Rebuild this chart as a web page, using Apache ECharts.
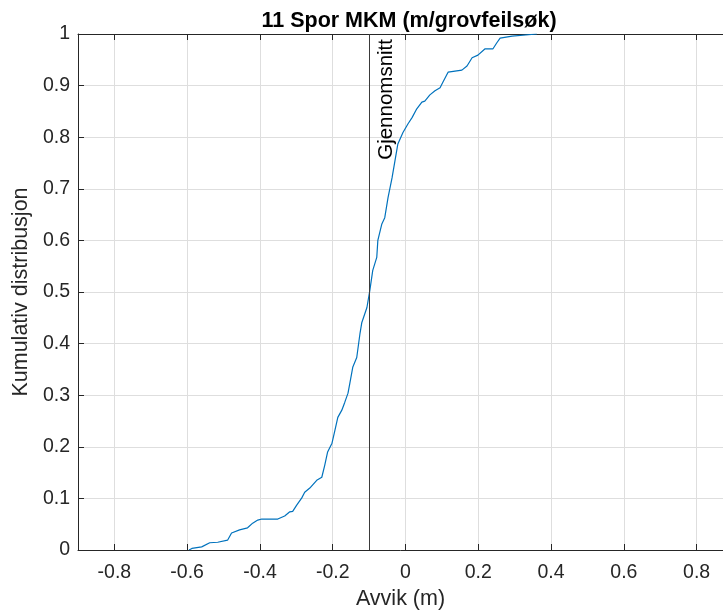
<!DOCTYPE html>
<html>
<head>
<meta charset="utf-8">
<script src="https://cdn.jsdelivr.net/npm/echarts@6/dist/echarts.min.js"></script>
<style>html,body{margin:0;padding:0;background:#fff;}#c{width:723px;height:615px;}</style>
</head>
<body>
<div id="c"></div>
<script>
const titleText = '11 Spor MKM (m/grovfeilsøk)';
const xName = 'Avvik (m)';
const yName = 'Kumulativ distribusjon';
const meanLabel = 'Gjennomsnitt';
const meanValue = -0.105;
const xTicks = [-0.8, -0.6, -0.4, -0.2, 0, 0.2, 0.4, 0.6, 0.8];
const avvik = [-0.595,-0.587,-0.560,-0.538,-0.516,-0.489,-0.478,-0.456,-0.434,-0.420,-0.406,-0.395,-0.351,-0.332,-0.318,-0.310,-0.299,-0.285,-0.277,-0.263,-0.244,-0.230,-0.222,-0.214,-0.202,-0.194,-0.186,-0.175,-0.167,-0.158,-0.153,-0.145,-0.134,-0.125,-0.120,-0.106,-0.098,-0.090,-0.079,-0.076,-0.065,-0.057,-0.048,-0.037,-0.029,-0.021,-0.007,0.007,0.018,0.031,0.045,0.053,0.067,0.081,0.095,0.103,0.117,0.155,0.169,0.183,0.199,0.218,0.240,0.251,0.260,0.293,0.361];
const kumulativ = [0,0.003,0.006,0.014,0.015,0.019,0.033,0.039,0.043,0.052,0.058,0.060,0.060,0.066,0.074,0.075,0.087,0.101,0.112,0.120,0.135,0.141,0.164,0.190,0.207,0.232,0.257,0.271,0.286,0.304,0.323,0.354,0.373,0.420,0.441,0.470,0.503,0.542,0.567,0.600,0.632,0.644,0.683,0.721,0.754,0.787,0.809,0.826,0.838,0.855,0.868,0.870,0.882,0.890,0.896,0.907,0.926,0.930,0.938,0.954,0.959,0.971,0.971,0.983,0.992,0.996,1.0];

const FONT = '"Liberation Sans", Arial, Helvetica, sans-serif';
const AX = '#262626';
const GRID = '#dedede';
const X_MIN = -0.9, X_MAX = 0.8725;
const chart = echarts.init(document.getElementById('c'), null, {renderer: 'canvas'});
chart.setOption({
  backgroundColor: '#fff',
  animation: false,
  title: {
    text: titleText, left: 404, top: 5, textAlign: 'center',
    textStyle: {fontFamily: FONT, fontSize: 21.5, fontWeight: 'bold', color: '#000'}
  },
  grid: {left: 78, right: 0, top: 34, bottom: 65, containLabel: false},
  xAxis: [{
    type: 'value', min: X_MIN, max: X_MAX, position: 'bottom',
    name: xName, nameLocation: 'middle', nameGap: 38,
    nameTextStyle: {fontFamily: FONT, fontSize: 21.5, color: AX},
    axisLine: {show: true, onZero: false, lineStyle: {color: AX, width: 1}},
    axisTick: {show: true, inside: true, length: 6, customValues: xTicks, lineStyle: {color: AX}},
    axisLabel: {customValues: xTicks, fontFamily: FONT, fontSize: 19.5, color: AX, margin: 13,
      formatter: v => String(Math.round(v * 10) / 10)},
    splitLine: {show: true, lineStyle: {color: GRID, width: 1}}
  }, {
    type: 'value', min: X_MIN, max: X_MAX, position: 'top',
    axisLine: {show: true, onZero: false, lineStyle: {color: AX, width: 1}},
    axisTick: {show: true, inside: true, length: 6, customValues: xTicks, lineStyle: {color: AX}},
    axisLabel: {show: false},
    splitLine: {show: false}
  }],
  yAxis: {
    type: 'value', min: 0, max: 1, interval: 0.1,
    name: yName, nameLocation: 'middle', nameGap: 46,
    nameTextStyle: {fontFamily: FONT, fontSize: 21.5, color: AX},
    axisLine: {show: true, onZero: false, lineStyle: {color: AX, width: 1}},
    axisTick: {show: true, inside: true, length: 6, lineStyle: {color: AX}},
    axisLabel: {fontFamily: FONT, fontSize: 19.5, color: AX, margin: 8,
      formatter: v => String(Math.round(v * 10) / 10)},
    splitLine: {show: true, lineStyle: {color: GRID, width: 1}}
  },
  series: [{
    type: 'line',
    data: avvik.map((x, i) => [x, kumulativ[i]]),
    showSymbol: false, symbol: 'none',
    lineStyle: {color: '#0072BD', width: 1.2},
    markLine: {
      silent: true, symbol: ['none', 'none'],
      lineStyle: {color: '#3a3a3a', width: 1, type: 'solid'},
      label: {show: true, formatter: meanLabel, position: 'insideEndBottom', distance: [5, 7],
        fontFamily: FONT, fontSize: 20.5, color: '#000'},
      data: [{xAxis: meanValue}]
    }
  }]
});
</script>
</body>
</html>
